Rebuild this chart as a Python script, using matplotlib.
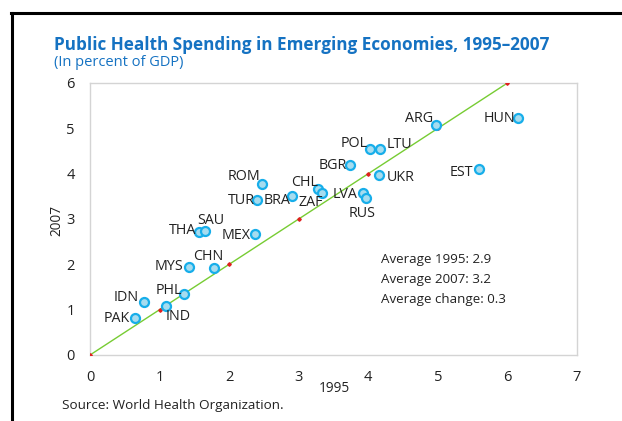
import matplotlib
matplotlib.use("Agg")
import matplotlib.pyplot as plt
from matplotlib.lines import Line2D

plt.rcParams['font.family'] = ['Open Sans', 'DejaVu Sans']

# ---- data ----
countries = ["PAK", "IDN", "IND", "PHL", "MYS", "CHN", "THA", "SAU", "MEX", "TUR", "ROM",
             "BRA", "CHL", "ZAF", "BGR", "LVA", "RUS", "POL", "LTU", "UKR", "ARG", "EST", "HUN"]
spend_1995 = [0.64, 0.78, 1.09, 1.35, 1.43, 1.78, 1.57, 1.66, 2.37, 2.40, 2.47,
              2.90, 3.28, 3.34, 3.73, 3.92, 3.97, 4.02, 4.17, 4.16, 4.98, 5.59, 6.15]
spend_2007 = [0.81, 1.18, 1.08, 1.34, 1.95, 1.91, 2.72, 2.73, 2.66, 3.43, 3.77,
              3.51, 3.67, 3.57, 4.20, 3.58, 3.46, 4.54, 4.54, 3.98, 5.07, 4.11, 5.23]
diag = [0, 1, 2, 3, 4, 5, 6]
x_ticks = [0, 1, 2, 3, 4, 5, 6, 7]
y_ticks = [0, 1, 2, 3, 4, 5, 6]
stats_text = ["Average 1995: 2.9", "Average 2007: 3.2", "Average change: 0.3"]

# label placement (pixel offsets, alignment)
label_pos = {
    "PAK": (-5, 0, 'right'), "IDN": (-6, 4, 'right'), "IND": (0, -10, 'left'),
    "PHL": (-2, 4, 'right'), "MYS": (-6, 0, 'right'), "CHN": (-6, 12, 'center'),
    "THA": (-3, 1, 'right'), "SAU": (5, 11, 'center'), "MEX": (-4, -1, 'right'),
    "TUR": (-2, -1, 'right'), "ROM": (-1, 8, 'right'), "BRA": (-1, -5, 'right'),
    "CHL": (0, 6, 'right'), "ZAF": (1, -9, 'right'), "BGR": (-3, -1, 'right'),
    "LVA": (-5, -2, 'right'), "RUS": (-4, -15, 'center'), "POL": (-2, 6, 'right'),
    "LTU": (7, 5, 'left'), "UKR": (7, -3, 'left'), "ARG": (-3, 7, 'right'),
    "EST": (-6, -4, 'right'), "HUN": (-3, -1, 'right'),
}

W, H = 622, 421
fig = plt.figure(figsize=(W / 100, H / 100), dpi=100)
fig.patch.set_facecolor('white')

# outer frame (left + top black lines)
fig.add_artist(Line2D([12 / W, 12 / W], [0, 1 - 12.5 / H], color='black', lw=2.2,
                      transform=fig.transFigure))
fig.add_artist(Line2D([11 / W, 1], [1 - 12.5 / H, 1 - 12.5 / H], color='black', lw=2.2,
                      transform=fig.transFigure))

left, right, top, bottom = 90, 577, 83, 355
ax = fig.add_axes([left / W, 1 - bottom / H, (right - left) / W, (bottom - top) / H])

ax.plot(diag, diag, color='#77CC33', lw=1.0, zorder=2)
ax.plot(diag, diag, linestyle='none', marker='D', markersize=1.8, color='#E02020', zorder=3)
ax.scatter(spend_1995, spend_2007, s=42, facecolor='#A6DCEF', edgecolor='#17AEEA',
           linewidths=1.6, zorder=4)

k = 0.72
for c, x, y in zip(countries, spend_1995, spend_2007):
    dx, dy, ha = label_pos[c]
    ax.annotate(c, (x, y), xytext=(dx * k, dy * k), textcoords='offset points',
                ha=ha, va='center', fontsize=10.3, color='#222222', zorder=5)

ax.set_xlim(0, 7)
ax.set_ylim(0, 6)
ax.set_xticks(x_ticks)
ax.set_yticks(y_ticks)
ax.tick_params(length=0, labelsize=10.5, colors='#222222')
ax.tick_params(axis='y', pad=11)
ax.tick_params(axis='x', pad=11)
for s in ax.spines.values():
    s.set_color('#D4D4D4')
    s.set_linewidth(1.0)

ax.set_xlabel("1995", fontsize=9.8, color='#222222')
ax.xaxis.set_label_coords((334 - left) / (right - left), -(388 - bottom) / (bottom - top))
ax.set_ylabel("2007", fontsize=9.8, color='#222222')
ax.yaxis.set_label_coords(-(left - 57) / (right - left), (bottom - 220) / (bottom - top))
ax.xaxis.label.set_va('center')
ax.yaxis.label.set_va('center')

for i, t in enumerate(stats_text):
    fig.text(381 / W, 1 - (260 + i * 19.5) / H, t, fontsize=9.6, color='#222222',
             ha='left', va='center')

fig.text(54 / W, 1 - 45 / H, "Public Health Spending in Emerging Economies, 1995\u20132007",
         fontsize=12.3, fontweight='bold', color='#1572C2', ha='left', va='center')
fig.text(54 / W, 1 - 62 / H, "(In percent of GDP)", fontsize=10.5, color='#1572C2',
         ha='left', va='center')
fig.text(62 / W, 1 - 405 / H, "Source: World Health Organization.", fontsize=9.7,
         color='#222222', ha='left', va='center')

fig.savefig("out.png", dpi=100)
